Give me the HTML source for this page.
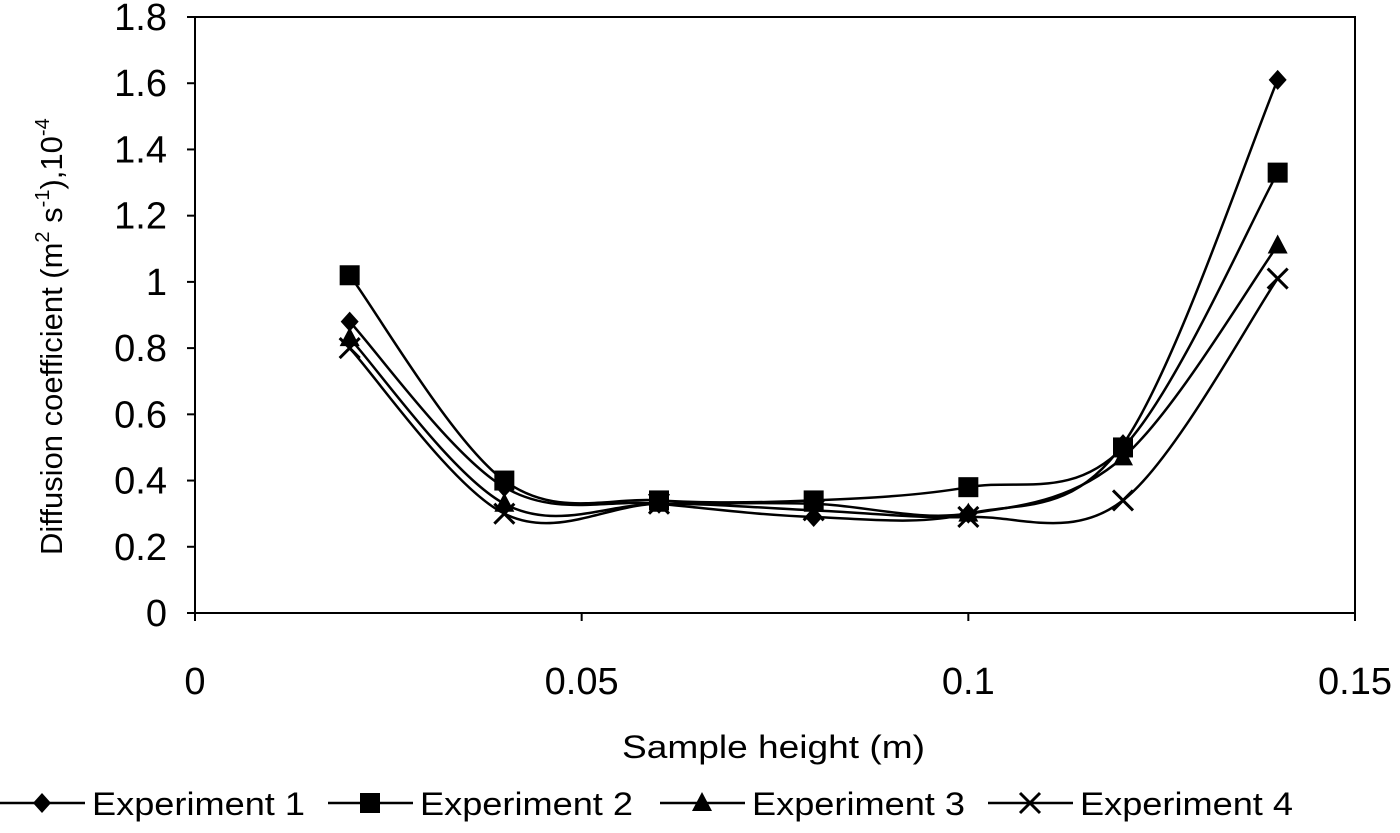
<!DOCTYPE html>
<html><head><meta charset="utf-8"><style>
body{margin:0;background:#fff;}
svg text{font-family:"Liberation Sans",sans-serif;fill:#000;}
</style></head><body>
<svg width="1400" height="828" xmlns="http://www.w3.org/2000/svg">
<g id="axes"></g><g id="series"></g><g id="legend"></g>
</svg>
<script>
const xValues=[0.02,0.04,0.06,0.08,0.1,0.12,0.14];
const exp1=[0.88,0.38,0.33,0.29,0.30,0.51,1.61];
const exp2=[1.02,0.40,0.34,0.34,0.38,0.50,1.33];
const exp3=[0.83,0.33,0.33,0.33,0.30,0.47,1.11];
const exp4=[0.80,0.30,0.33,0.31,0.29,0.34,1.01];
const seriesNames=["Experiment 1","Experiment 2","Experiment 3","Experiment 4"];
const yTicks=["0","0.2","0.4","0.6","0.8","1","1.2","1.4","1.6","1.8"];
const xTicks=["0","0.05","0.1","0.15"];
const NS="http://www.w3.org/2000/svg";
const X0=195,X1=1355,Y0=613,Y1=17;
const sx=v=>X0+(v/0.15)*(X1-X0);
const sy=v=>Y0-(v/1.8)*(Y0-Y1);
function mk(t,a,p){const e=document.createElementNS(NS,t);for(const k in a)e.setAttribute(k,a[k]);p.appendChild(e);return e;}
const ax=document.getElementById('axes');
let box=mk('rect',{x:X0,y:Y1,width:X1-X0,height:Y0-Y1,fill:'none',stroke:'#000','stroke-width':2},ax);


yTicks.forEach(t=>{const v=parseFloat(t),y=sy(v);
mk('line',{x1:X0-8,x2:X0,y1:y,y2:y,stroke:'#000','stroke-width':2},ax);
const tx=mk('text',{x:167,y:y+13,'text-anchor':'end','font-size':38},ax);tx.textContent=t;

});
xTicks.forEach(t=>{const x=sx(parseFloat(t));
mk('line',{x1:x,x2:x,y1:Y0,y2:Y0+8,stroke:'#000','stroke-width':2},ax);
const tx=mk('text',{x:x,y:694,'text-anchor':'middle','font-size':38},ax);tx.textContent=t;

});
let xt=mk('text',{x:622,y:758,'font-size':32,textLength:303,lengthAdjust:'spacingAndGlyphs'},ax);xt.textContent="Sample height (m)";


let yt=mk('text',{transform:'translate(62,555) rotate(-90)','font-size':31},ax);
yt.innerHTML='Diffusion coefficient (m<tspan dy="-13" font-size="20">2</tspan><tspan dy="13"> s</tspan><tspan dy="-13" font-size="20">-1</tspan><tspan dy="13">),10</tspan><tspan dy="-13" font-size="20">-4</tspan>';


function marker(k,x,y,p){
 if(k==0)return mk('polygon',{points:`${x},${y-10} ${x+9},${y} ${x},${y+10} ${x-9},${y}`,fill:'#000'},p);
 if(k==1)return mk('rect',{x:x-10,y:y-10,width:20,height:20,fill:'#000'},p);
 if(k==2)return mk('polygon',{points:`${x},${y-11} ${x+10},${y+8} ${x-10},${y+8}`,fill:'#000'},p);
 return mk('path',{d:`M${x-10},${y-10}L${x+10},${y+10}M${x+10},${y-10}L${x-10},${y+10}`,stroke:'#000','stroke-width':3,fill:'none'},p);
}
function smooth(pts){let d=`M${pts[0][0]},${pts[0][1]}`;
for(let i=0;i<pts.length-1;i++){const p0=pts[Math.max(0,i-1)],p1=pts[i],p2=pts[i+1],p3=pts[Math.min(pts.length-1,i+2)];
const c1=[p1[0]+(p2[0]-p0[0])/6,p1[1]+(p2[1]-p0[1])/6],c2=[p2[0]-(p3[0]-p1[0])/6,p2[1]-(p3[1]-p1[1])/6];
d+=`C${c1[0]},${c1[1]} ${c2[0]},${c2[1]} ${p2[0]},${p2[1]}`;}return d;}
const sg=document.getElementById('series');
[exp1,exp2,exp3,exp4].forEach((s,k)=>{
 const g=mk('g',{},sg);
 
 
 const pts=s.map((v,i)=>[sx(xValues[i]),sy(v)]);
 mk('path',{d:smooth(pts),fill:'none',stroke:'#000','stroke-width':2.5},g);
 pts.forEach(p=>{const m=marker(k,p[0],p[1],g);
 
 });
});
const lg=document.getElementById('legend');
const lx=[0,328,660,988];
seriesNames.forEach((n,k)=>{const g=mk('g',{},lg);
 
 
 const x=lx[k],y=803;
 mk('line',{x1:x,x2:x+85,y1:y,y2:y,stroke:'#000','stroke-width':2.5},g);
 marker(k,x+42,y,g);
 const t=mk('text',{x:x+92,y:y+12,'font-size':32,textLength:213,lengthAdjust:'spacingAndGlyphs'},g);t.textContent=n;});
</script>
</body></html>
